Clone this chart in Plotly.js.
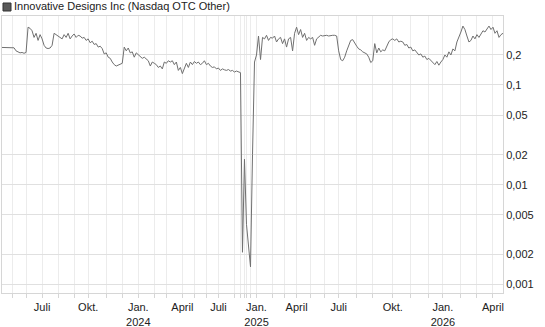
<!DOCTYPE html>
<html>
<head>
<meta charset="utf-8">
<script src="https://cdn.plot.ly/plotly-3.0.1.min.js"></script>
<style>html,body{margin:0;padding:0;background:#fff;}#chart{width:545px;height:327px;}</style>
</head>
<body>
<div id="chart"></div>
<script>
// Closing prices (USD) per trading session, session index = array position
const prices = [
  0.238,0.238,0.236,0.238,0.237,0.238,0.236,
  0.220,0.215,0.210,0.212,0.208,0.212,
  0.380,0.370,0.350,0.300,0.330,0.280,0.320,0.290,0.250,0.235,0.232,0.235,0.250,0.330,0.320,
  0.310,0.300,0.290,0.320,0.300,0.330,0.290,0.310,0.325,0.300,0.315,0.310,0.295,0.300,0.280,
  0.290,0.265,0.275,0.255,0.260,0.240,0.245,
  0.232,0.205,0.210,0.190,0.185,
  0.170,0.160,0.155,0.158,0.160,0.165,
  0.240,0.220,0.235,
  0.210,0.215,0.190,0.210,0.200,0.195,
  0.185,0.190,0.180,0.175,
  0.155,0.170,0.165,0.160,0.150,0.155,0.145,
  0.170,0.165,0.175,0.170,0.175,0.160,0.170,0.140,0.150,
  0.130,0.150,
  0.165,0.150,0.170,0.160,0.172,0.165,0.170,0.160,0.165,0.175,0.160,0.165,
  0.155,0.150,0.152,0.145,0.148,0.140,0.145,0.142,0.140,0.143,0.138,0.140,0.135,0.138,0.135,0.133,
  0.0021,0.018,0.004,0.0022,0.0015,0.020,0.170,0.200,
  0.310,0.180,0.300,
  0.290,0.315,0.280,0.300,0.295,0.310,0.270,0.290,0.300,0.260,0.290,0.240,0.290,0.300,0.220,0.330,0.380,0.320,0.360,0.300,0.330,0.280,
  0.300,0.290,0.300,0.250,0.290,0.300,0.315,0.310,0.315,0.315,0.310,0.315,0.315,0.315,0.310,
  0.220,0.180,0.175,0.190,0.220,0.250,0.280,0.285,0.260,0.245,0.230,0.225,0.215,0.210,0.205,0.190,
  0.168,0.175,0.260,0.210,0.235,0.215,0.225,0.220,0.250,0.270,0.285,0.290,0.280,0.290,0.270,0.275,
  0.270,0.250,0.255,0.235,0.240,0.220,0.225,0.210,0.200,0.205,
  0.190,0.195,0.180,0.185,0.175,0.170,0.160,0.172,0.158,0.170,
  0.180,0.200,0.190,0.215,0.200,0.230,0.220,
  0.270,0.300,0.340,0.390,0.360,0.310,0.270,
  0.280,0.310,0.290,0.320,0.300,0.330,0.350,0.340,0.370,0.390,0.360,0.380,0.330,0.350,0.300,0.320,0.330
];
// Session index of the first trading day of each month (May 2023 .. Apr 2026)
const monthStartIdx = [5,12,20,28,36,43,52,60, 68,76,82,90,96,102,108,116,119,121,122,124, 127,135,141,147,154,161,168,177,185,195,204,213, 220,229,237,245];
const monthLabels = ['','','Juli','','','Okt.','','', 'Jan.<br>2024','','','April','','','Juli','','','','','', 'Jan.<br>2025','','','April','','','Juli','','','Okt.','','', 'Jan.<br>2026','','','April'];
const yTicks = [0.001,0.002,0.005,0.01,0.02,0.05,0.1,0.2];
const yTickText = ['0,001','0,002','0,005','0,01','0,02','0,05','0,1','0,2'];
const seriesName = 'Innovative Designs Inc (Nasdaq OTC Other)';

const sessions = prices.map((_, i) => i);

const trace = {
  x: sessions, y: prices, type: 'scatter', mode: 'lines',
  line: {color: '#707070', width: 1}, hoverinfo: 'skip', showlegend: false
};

const layout = {
  width: 545, height: 327,
  margin: {l: 2, r: 42, t: 16, b: 34},
  paper_bgcolor: '#fff', plot_bgcolor: '#fff',
  font: {family: 'Liberation Sans, Arial, sans-serif', size: 11, color: '#222'},
  separators: ', ',
  showlegend: false,
  title: {text: seriesName, x: 14/545, xanchor: 'left', xref: 'container',
          y: 1 - 6.5/327, yanchor: 'middle', yref: 'container',
          font: {size: 11, color: '#222', family: 'Liberation Sans, Arial, sans-serif'}},
  xaxis: {
    type: 'linear', range: [0, prices.length - 1],
    tickmode: 'array', tickvals: monthStartIdx, ticktext: monthLabels,
    showgrid: true, gridcolor: '#ececec', gridwidth: 1,
    ticks: 'outside', ticklen: 4, tickcolor: '#d6d6d6', tickwidth: 1,
    showline: true, linecolor: '#d6d6d6', linewidth: 1, mirror: true,
    zeroline: false, tickangle: 0, fixedrange: true,
    tickfont: {size: 11, color: '#222'}
  },
  yaxis: {
    type: 'log', side: 'right',
    range: [Math.log10(0.00082), Math.log10(0.492)],
    tickmode: 'array', tickvals: yTicks, ticktext: yTickText,
    showgrid: true, gridcolor: '#e0e0e0', gridwidth: 1,
    ticks: '', showline: true, linecolor: '#d6d6d6', linewidth: 1, mirror: true,
    zeroline: false, fixedrange: true,
    tickfont: {size: 11, color: '#222'}
  },
  shapes: [{
    type: 'rect', xref: 'paper', yref: 'paper',
    x0: 1/501, x1: 9/501, y0: (293-11)/277, y1: (293-3)/277,
    fillcolor: '#5a5a5a', line: {color: '#333', width: 1}
  }]
};

Plotly.newPlot('chart', [trace], layout, {displayModeBar: false, staticPlot: true});
</script>
</body>
</html>
